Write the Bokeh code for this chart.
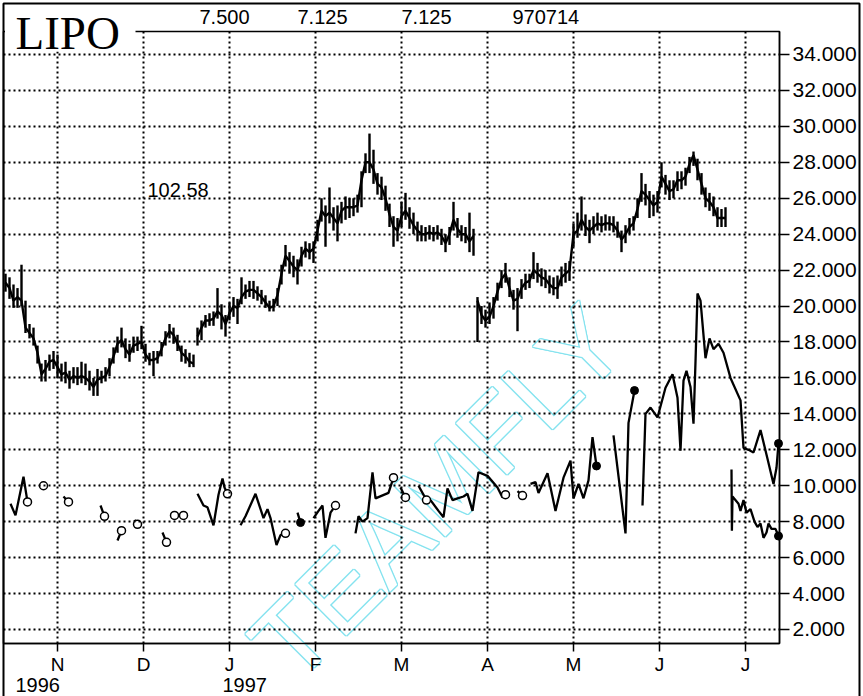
from bokeh.plotting import figure
from bokeh.models import Range1d, FixedTicker, PrintfTickFormatter
from bokeh.core.properties import value
from bokeh.embed import file_html
from bokeh.resources import INLINE

nan = float("nan")

# ---------------- data ----------------
# daily bars, index = trading day (day 0 = mid-October 1996)
close = [
    21.3, 21.0, 20.3, 20.5, 20.3, 18.8, 18.5, 18.2, 17.4, 16.2,
    16.5, 16.9, 17.0, 16.6, 16.2, 16.3, 15.9, 16.1, 16.0, 16.1,
    16.0, 15.8, 15.5, 15.9, 16.0, 16.1, 16.6, 17.2, 17.9, 18.1,
    17.6, 17.3, 17.8, 17.9, 18.0, 17.3, 17.0, 17.0, 17.1, 17.6,
    18.2, 18.6, 18.4, 17.9, 17.4, 17.2, 16.9, 16.8,
    18.3, 18.8, 19.2, 19.2, 19.3, 19.7, 19.5, 19.0, 19.6, 20.0,
    19.9, 20.5, 20.8, 20.9, 20.9, 20.7, 20.5, 20.2, 19.9, 20.0,
    20.6, 21.8, 22.8, 22.5, 22.2, 22.0, 22.8, 23.2, 23.0, 23.2,
    24.2, 25.3, 25.0, 25.2, 24.9, 24.6, 25.3, 25.5, 25.5, 25.5,
    25.6, 27.0, 28.0, 28.0, 27.6, 26.8, 26.6, 26.0, 25.1, 24.4,
    24.2, 25.0, 25.3, 24.9, 24.5, 24.2, 24.0, 24.0, 24.1, 24.0,
    24.1, 23.9, 23.5, 24.0, 24.8, 24.3, 24.0, 24.0, 23.6, 23.9,
    20.3, 19.5, 19.2, 19.4, 20.0, 20.8, 21.5, 21.8, 21.0, 20.3,
    20.4, 21.0, 21.3, 21.4, 22.0, 21.8, 21.6, 21.5, 21.2, 21.0,
    21.0, 21.6, 21.8, 22.0, 24.0, 24.2, 24.8, 24.4, 24.2, 24.4,
    24.6, 24.5, 24.6, 24.6, 24.5, 24.2, 23.7, 24.0, 24.4, 24.6,
    25.4, 26.4, 26.2, 25.9, 25.6, 25.8, 27.2, 26.8, 26.4, 26.5,
    27.0, 27.0, 27.2, 27.9, 28.4, 27.6, 26.8, 26.0, 25.8, 25.5,
    24.9, 24.9, 24.9,
]
high = [
    21.8, 21.6, 21.2, 21.0, 22.3, 20.3, 19.0, 18.8, 17.8, 16.8,
    17.0, 17.3, 17.5, 17.3, 16.8, 16.9, 16.4, 16.6, 16.6, 16.9,
    16.8, 16.4, 16.0, 16.5, 16.4, 16.6, 17.1, 17.7, 18.3, 18.8,
    18.2, 17.9, 18.3, 18.3, 18.9, 17.9, 17.4, 17.5, 17.5, 18.0,
    18.6, 19.0, 18.8, 18.4, 17.8, 17.6, 17.4, 17.3,
    18.8, 19.2, 19.5, 19.6, 19.7, 21.0, 20.1, 19.5, 20.2, 20.5,
    20.4, 21.6, 21.2, 21.4, 21.4, 21.1, 20.9, 20.6, 20.3, 20.4,
    21.0, 22.3, 23.4, 23.0, 22.8, 22.6, 23.3, 23.6, 23.5, 23.6,
    24.8, 26.0, 25.6, 26.6, 25.5, 25.6, 25.8, 26.1, 26.0, 26.0,
    26.2, 27.5, 28.5, 29.6, 28.7, 27.4, 27.2, 26.7, 25.7, 25.0,
    24.9, 25.8, 26.3, 25.5, 25.2, 24.7, 24.5, 24.4, 24.5, 24.4,
    24.5, 24.3, 24.0, 24.4, 25.8, 24.9, 24.5, 24.4, 25.2, 24.3,
    20.5, 20.0, 19.8, 20.2, 20.5, 21.3, 22.0, 22.4, 21.6, 20.9,
    21.0, 21.5, 21.8, 21.8, 23.0, 22.4, 22.1, 22.0, 21.7, 21.6,
    21.7, 22.2, 22.4, 22.5, 24.6, 25.2, 26.1, 25.1, 24.8, 25.0,
    25.2, 25.0, 25.1, 25.0, 25.0, 24.7, 24.2, 24.5, 24.9, 25.0,
    26.0, 27.4, 26.8, 26.4, 26.2, 26.4, 28.0, 27.3, 27.0, 27.0,
    27.5, 27.5, 27.7, 28.3, 28.6, 28.2, 27.4, 26.6, 26.3, 26.1,
    25.5, 25.4, 25.5,
]
low = [
    20.8, 20.4, 19.9, 19.9, 20.0, 18.5, 18.2, 17.8, 16.8, 15.8,
    15.8, 16.4, 16.5, 16.0, 15.8, 15.7, 15.4, 15.7, 15.6, 15.7,
    15.6, 15.3, 15.0, 15.0, 15.7, 15.8, 16.1, 16.8, 17.4, 17.7,
    17.1, 16.9, 17.4, 17.5, 17.6, 16.9, 16.7, 16.1, 16.8, 17.2,
    17.8, 18.2, 17.9, 17.5, 16.9, 16.8, 16.6, 16.6,
    17.8, 18.1, 18.8, 18.9, 18.9, 19.3, 18.7, 18.3, 19.2, 19.4,
    19.0, 20.1, 20.4, 20.5, 20.4, 20.3, 20.1, 19.9, 19.7, 19.7,
    20.0, 21.2, 22.2, 21.8, 21.6, 21.2, 22.2, 22.7, 22.6, 22.4,
    23.6, 24.7, 23.3, 24.6, 24.2, 23.6, 24.6, 24.8, 24.9, 25.0,
    25.2, 25.5, 27.4, 27.4, 26.8, 26.2, 25.9, 25.3, 24.4, 23.3,
    23.6, 24.4, 24.8, 24.3, 24.0, 23.6, 23.6, 23.6, 23.7, 23.6,
    23.7, 23.4, 23.0, 23.4, 24.2, 23.8, 23.6, 23.5, 23.0, 22.8,
    18.0, 19.0, 18.8, 19.0, 19.3, 20.3, 21.0, 21.3, 20.5, 19.8,
    18.6, 20.4, 20.9, 21.0, 21.5, 21.3, 21.1, 21.0, 20.7, 20.6,
    20.4, 21.1, 21.3, 21.4, 23.3, 23.8, 24.2, 23.9, 23.5, 24.0,
    24.2, 24.1, 24.2, 24.2, 24.1, 23.8, 23.0, 23.5, 24.0, 24.2,
    24.9, 25.8, 25.6, 24.9, 25.0, 25.2, 26.6, 26.2, 25.9, 26.0,
    26.4, 26.5, 26.7, 27.4, 27.8, 27.0, 26.2, 25.5, 25.3, 25.0,
    24.4, 24.4, 24.4,
]
segment_starts = [0, 48, 118]   # the close line is broken at these days

# lower indicator line (None = break)
ind_days = [
    1.25, 2.5, 4.5, 5.5, None,
    8.75, 9.5, None,
    14.5, 15.75, None,
    23.75, 24.75, None,
    28, 29, None,
    32.25, 33, None,
    39.25, 40.25, None,
    48, 49.5, 50.5, 52, 53.25, 54.25, 54.75, 55.5, None,
    58.75, 60, 62.5, 64.5, 65.5, 66.25, 67.75, 68.75, 70, None,
    73, 73.75, None,
    77, 78.25, 79.25, 80, 81.25, 82.5, None,
    87.5, 88.25, 89.25, 90.5, 91.75, 92.5, 95.75, 97, None,
    98.75, 100, None,
    103.25, 105.25, None,
    106.25, 108.25, 109.5, 110.5, 111.75, 113, 114.5, 115.5, 116.75, 118.25, 120.5, 123, 124.25, 125, None,
    128, 129.25, None,
    131.25, 132.5, 133.25, 135.5, 137.5, 139.5, 141.25, 142, 143.25, 144.5, 145.75, 146.75, 147.75, None,
    152, 155, 155.75, 157.25, None,
    159.25, 160, 161.25, 163, 165, 166.75, 168, 168.75, 169.5, 170.25,
    171.25, 172, 172.5, 173, 173.75, 175, 176, 177, 178.25, 179.5,
    181.25, 183.75, 184.5, 185.75, 187, 188.75, 190.5, 192, 192.75, 193.25, None,
    181.5, 181.6, 181.75, 183.25, 183.75, 184.5, 185.25, 186.25, 187.25, 188,
    188.75, 189.5, 190.25, 190.75, 191.5, 192.5, 193.25,
]
ind_vals = [
    9.0, 8.35, 10.5, 9.1, None,
    10.0, 10.0, None,
    9.4, 9.1, None,
    8.9, 8.3, None,
    6.95, 7.5, None,
    8.1, 7.85, None,
    7.4, 6.85, None,
    9.55, 8.9, 8.8, 7.8, 9.5, 10.4, 9.9, 9.55, None,
    7.8, 8.3, 9.55, 8.2, 8.7, 8.2, 6.7, 7.25, 7.35, None,
    8.5, 7.95, None,
    8.2, 8.6, 8.9, 7.1, 8.5, 8.9, None,
    7.35, 8.3, 8.0, 8.2, 10.75, 9.3, 9.6, 10.45, None,
    9.9, 9.35, None,
    10.0, 9.2, None,
    9.2, 8.6, 8.25, 9.85, 9.2, 9.3, 9.4, 9.55, 8.6, 10.75, 10.55, 9.9, 9.35, 9.5, None,
    9.7, 9.45, None,
    10.1, 10.2, 9.6, 10.7, 8.6, 10.45, 11.4, 9.3, 10.1, 9.3, 10.3, 12.7, 11.1, None,
    12.8, 7.35, 13.5, 15.3, None,
    8.9, 14.0, 14.35, 13.8, 15.45, 16.2, 14.9, 11.95, 15.85, 16.4,
    15.5, 13.45, 16.9, 20.7, 20.3, 17.1, 18.2, 17.6, 17.9, 17.4,
    16.0, 14.75, 12.1, 12.0, 11.85, 13.1, 11.5, 10.1, 11.0, 12.35, None,
    10.9, 7.5, 9.4, 9.0, 8.6, 9.2, 8.5, 8.7, 8.0, 7.7,
    7.9, 7.1, 7.4, 7.9, 7.6, 7.6, 7.2,
]
open_days = [5.5, 9.5, 15.75, 24.75, 29, 33, 40.25, 42.25, 44.5, 55.5,
             70, 82.5, 97, 100, 105.25, 125, 129.25]
open_vals = [9.1, 10.0, 9.1, 8.3, 7.5, 7.85, 6.85, 8.35, 8.35, 9.55,
             7.35, 8.9, 10.45, 9.35, 9.2, 9.5, 9.45]
dot_days = [73.75, 147.75, 157.25, 193.25, 193.25]
dot_vals = [7.95, 11.1, 15.3, 12.35, 7.2]

month_ticks = [13, 34.5, 56, 77.5, 99, 120.5, 142, 163.5, 185]
month_labels = ["N", "D", "J", "F", "M", "A", "M", "J", "J"]
price_ticks = list(range(2, 36, 2))
header_texts = ["7.500", "7.125", "7.125", "970714"]
symbol = "LIPO"
side_value = "102.58"
years = ["1996", "1997"]
watermark = "TEAMFLY"

# ---------------- figure ----------------
FONT = "Liberation Sans"
X0, X1 = -0.5, 193.5
Y0, Y1 = 1.22, 35.28
p = figure(width=863, height=696, output_backend="svg", toolbar_location=None,
           x_range=Range1d(X0, X1), y_range=Range1d(Y0, Y1),
           y_axis_location="right",
           min_border_left=3, min_border_right=84, min_border_top=31, min_border_bottom=53)
p.outline_line_color = "black"
p.outline_line_width = 1.5
p.background_fill_color = "white"
p.border_fill_color = "white"

# watermark (outlined text: cyan copies offset by 1px, white core)
wm_x, wm_y = 108, 9.62
offsets = [(-1, -1), (-1, 0), (-1, 1), (0, -1), (0, 1), (1, -1), (1, 0), (1, 1)]
for ox, oy in offsets:
    p.text(x=[wm_x], y=[wm_y], text=[watermark], angle=45, angle_units="deg",
           x_offset=ox, y_offset=oy, text_color="#86e3ef",
           text_font=value(FONT), text_font_size="105px",
           text_align="center", text_baseline="middle", level="guide")
p.text(x=[wm_x], y=[wm_y], text=[watermark], angle=45, angle_units="deg",
       text_color="white", text_font=value(FONT), text_font_size="105px",
       text_align="center", text_baseline="middle", level="guide")

# axes
xa = p.xaxis[0]
xa.ticker = FixedTicker(ticks=month_ticks)
xa.major_label_overrides = {t: lab for t, lab in zip(month_ticks, month_labels)}
xa.major_tick_out = 8
xa.major_tick_in = 0
xa.minor_tick_out = 0
xa.minor_tick_in = 0
xa.axis_line_width = 1.5
xa.major_tick_line_width = 1.5
xa.major_label_text_font = FONT
xa.major_label_text_font_size = "19px"
xa.major_label_text_color = "black"
xa.major_label_standoff = 2
xa.level = "annotation"

ya = p.yaxis[0]
ya.ticker = FixedTicker(ticks=price_ticks)
ya.formatter = PrintfTickFormatter(format="%.3f")
ya.major_tick_out = 10
ya.major_tick_in = 0
ya.minor_tick_out = 0
ya.minor_tick_in = 0
ya.axis_line_width = 1.5
ya.major_tick_line_width = 1.5
ya.major_label_text_font = FONT
ya.major_label_text_font_size = "21px"
ya.major_label_text_color = "black"
ya.major_label_standoff = 3
ya.level = "annotation"

# grids
p.xgrid.ticker = FixedTicker(ticks=month_ticks)
p.ygrid.ticker = FixedTicker(ticks=price_ticks)
for g in (p.xgrid[0], p.ygrid[0]):
    g.grid_line_color = "black"
    g.grid_line_dash = "2 3"
    g.grid_line_width = 2
    g.level = "annotation"

# price bars and close line
days = list(range(len(close)))
p.segment(x0=days, y0=low, x1=days, y1=high, line_color="black", line_width=2.4,
          level="annotation")
lx, ly = [], []
bounds = segment_starts + [len(close)]
for a, b in zip(bounds[:-1], bounds[1:]):
    lx += days[a:b] + [nan]
    ly += close[a:b] + [nan]
p.line(lx, ly, line_color="black", line_width=2.4, level="annotation")

# indicator line
ix = [nan if v is None else v for v in ind_days]
iv = [nan if v is None else v for v in ind_vals]
p.line(ix, iv, line_color="black", line_width=2.3, level="annotation")
p.scatter(open_days, open_vals, marker="circle", size=8, fill_color="white",
          line_color="black", line_width=1.5, level="annotation")
p.scatter(dot_days, dot_vals, marker="circle", size=8, fill_color="black",
          line_color="black", line_width=1, level="annotation")

# ---- texts and page frame (drawn as glyphs so they are not clipped to the frame)
PX = (X1 - X0) / 776.0        # data units per pixel horizontally
PY = (Y1 - Y0) / 612.0        # data units per pixel vertically

def dx_(px):  # absolute page x pixel -> data x
    return X0 + (px - 3) * PX

def dy_(py):  # absolute page y pixel -> data y
    return Y0 + (643 - py) * PY

# white box behind the symbol
p.quad(left=[dx_(4.5)], right=[dx_(135)], top=[dy_(4.5)], bottom=[dy_(51)],
       fill_color="white", line_color=None, level="overlay")
# text y values below are the vertical centres of the glyphs
p.text(x=[dx_(15)], y=[dy_(32)], text=[symbol], text_font=value("Liberation Serif"),
       text_font_size="47px", text_color="black", text_baseline="alphabetic",
       level="overlay")
p.text(x=[dx_(199), dx_(297), dx_(401), dx_(512)], y=[dy_(16.7)] * 4, text=header_texts,
       text_font=value(FONT), text_font_size="20px", text_color="black",
       text_baseline="alphabetic", level="overlay")
p.text(x=[dx_(147)], y=[dy_(189)], text=[side_value], text_font=value(FONT),
       text_font_size="20px", text_color="black", text_baseline="alphabetic",
       level="overlay")
p.text(x=[dx_(15), dx_(222)], y=[dy_(684.5)] * 2, text=years, text_font=value(FONT),
       text_font_size="20px", text_color="black", text_baseline="alphabetic",
       level="overlay")
# outer page border (top, left, right)
p.quad(left=[dx_(3)], right=[dx_(859)], top=[dy_(3)], bottom=[dy_(710)],
       fill_color=None, line_color="black", line_width=2, level="overlay")

open("out.html", "w").write(file_html(p, INLINE))
